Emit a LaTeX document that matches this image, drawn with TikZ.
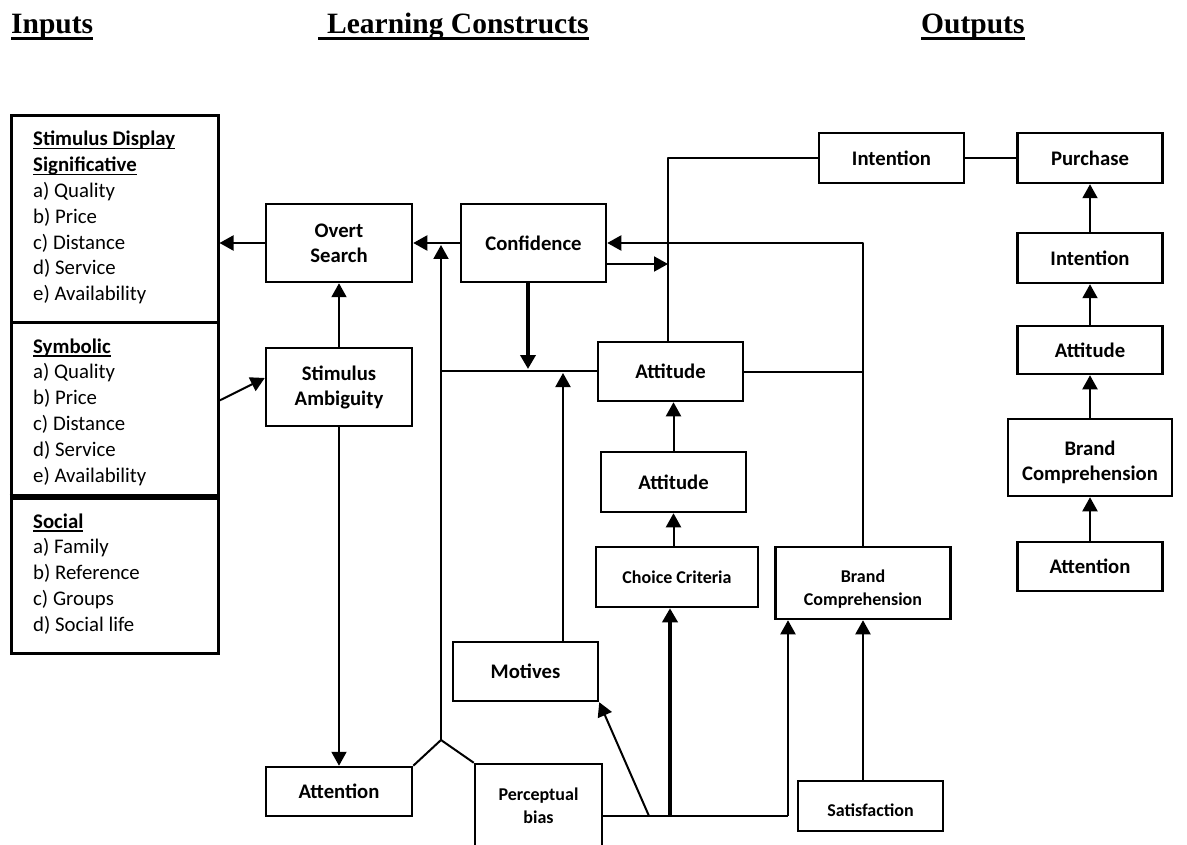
\documentclass[tikz,border=0pt]{standalone}
\usepackage{fontspec}
\setmainfont{Carlito}
\newfontfamily\headfont{Liberation Serif}
\newcommand{\myul}[1]{\setbox0\hbox{#1}\rlap{\rule[-3.5pt]{\wd0}{1.6pt}}\box0}
\usetikzlibrary{arrows.meta}
\begin{document}
\begin{tikzpicture}[x=1pt,y=-1pt,
  box/.style={draw, line width=2.5pt, inner sep=0pt, align=center, font=\bfseries\fontsize{20.7}{25}\selectfont},
  sbox/.style={box, font=\bfseries\fontsize{18}{23}\selectfont},
  lbox/.style={draw, line width=3pt, inner sep=0pt},
  ltxt/.style={anchor=base west, inner sep=0pt, font=\fontsize{20.8}{25}\selectfont},
  head/.style={anchor=base west, inner sep=0pt, font=\headfont\bfseries\fontsize{29.5}{32}\selectfont},
  link/.style={line width=2pt, line join=round},
  arr/.style={line width=2pt, line join=round, -{Triangle[length=14pt,width=15pt]}},
  tarr/.style={line width=3.5pt, -{Triangle[length=14pt,width=15pt]}},
  uln/.style={line width=2.8pt}
]
\useasboundingbox (0,0) rectangle (1187,845);

% headings
\node[head] (hin) at (11,33.5) {Inputs};
\node[head] (hlc) at (327,33.5) {Learning Constructs};
\node[head] (hout) at (921,33.5) {Outputs};
\draw[uln] ([yshift=-5pt]hin.base west) -- ([yshift=-5pt]hin.base east);
\draw[uln] ([shift={(-9pt,-5pt)}]hlc.base west) -- ([yshift=-5pt]hlc.base east);
\draw[uln] ([yshift=-5pt]hout.base west) -- ([yshift=-5pt]hout.base east);

% left input box
\node[lbox, minimum width=207pt, minimum height=207pt] (sig) at (114.5,219.5) {};
\node[lbox, minimum width=207pt, minimum height=175pt] (sym) at (114.5,410.5) {};
\node[lbox, minimum width=207pt, minimum height=155pt] (soc) at (114.5,575.5) {};
\draw[line width=4.5pt] (soc.north west) -- (soc.north east);

\foreach \t [count=\i] in {{\bfseries\myul{Stimulus Display}}, {\bfseries\myul{Significative}}, a) Quality, b) Price, c) Distance, d) Service, e) Availability}
  \node[ltxt] (sigt\i) at (33,{146+(\i-1)*25.8}) {\t};
\foreach \t [count=\i] in {{\bfseries\myul{Symbolic}}, a) Quality, b) Price, c) Distance, d) Service, e) Availability}
  \node[ltxt] (symt\i) at (33,{353+(\i-1)*25.8}) {\t};
\foreach \t [count=\i] in {{\bfseries\myul{Social}}, a) Family, b) Reference, c) Groups, d) Social life}
  \node[ltxt] (soct\i) at (33,{528+(\i-1)*25.8}) {\t};

% boxes
\node[box, minimum width=146pt, minimum height=78pt] (ovs) at (339,243) {Overt\\Search};
\node[box, minimum width=145pt, minimum height=78pt] (conf) at (533.5,243) {Confidence};
\node[box, minimum width=146pt, minimum height=78pt] (sa) at (339,387) {Stimulus\\Ambiguity};
\node[box, minimum width=145pt, minimum height=59pt] (att1) at (670.5,371.5) {Attitude};
\node[box, minimum width=145pt, minimum height=60pt] (att2) at (673.5,482) {Attitude};
\node[sbox, minimum width=162pt, minimum height=60pt] (cc) at (677,577) {Choice Criteria};
\node[sbox, minimum width=175pt, minimum height=72pt] (bcm) at (863,583) {\rule{0pt}{25pt}Brand\\Comprehension};
\node[box, minimum width=145pt, minimum height=59pt] (mot) at (525.5,671.5) {Motives};
\node[box, minimum width=146pt, minimum height=49pt] (attn) at (339,791.5) {Attention};
\node[sbox, minimum width=127pt, minimum height=84pt] (pb) at (538.5,806) {Perceptual\\bias};
\node[sbox, minimum width=145pt, minimum height=50pt] (sat) at (870.5,806) {\rule{0pt}{20.5pt}Satisfaction};
\node[box, minimum width=145pt, minimum height=50pt] (intt) at (891.5,158) {Intention};
\node[box, minimum width=145pt, minimum height=50pt] (pur) at (1090,158) {Purchase};
\node[box, minimum width=145pt, minimum height=50pt] (intr) at (1090,258) {Intention};
\node[box, minimum width=145pt, minimum height=48pt] (attr) at (1090,350) {Attitude};
\node[box, minimum width=164pt, minimum height=77pt] (bcr) at (1090,457.5) {\rule{0pt}{25pt}Brand\\Comprehension};
\node[box, minimum width=145pt, minimum height=49pt] (attnr) at (1090,566.5) {Attention};

% helper coordinates
\coordinate (J) at (441,740);
\coordinate (T) at (441,245);
\coordinate (H) at (441,371);
\coordinate (cdn) at (528,369);
\coordinate (mup) at (563,373);
\coordinate (vc) at (668,264);
\coordinate (bb) at (788,816);
\coordinate (tk) at (670,816);
\coordinate (dg) at (649,816);

% connectors
\draw[arr] (ovs.west) -- (ovs.west -| sig.east);
\draw[arr] (conf.west) -- (ovs.east);
\draw[arr] (sa.north) -- (ovs.south);
\draw[arr] ([yshift=10pt]sym.east) -- ([yshift=9pt]sa.west);
\draw[arr] (sa.south) -- (attn.north);
\draw[link] (attn.north east) -- (J) -- (pb.north west);
\draw[arr] (J) -- (T);
\draw[link] (H) -- (H -| att1.west);
\draw[tarr] (conf.south -| cdn) -- (cdn);
\draw[arr] (mot.north -| mup) -- (mup);
\draw[link] (att1.east) -- (att1.east -| bcm.north);
\draw[arr] (bcm.north) -- (bcm.north |- conf.east) -- (conf.east);
\draw[arr] (conf.east |- vc) -- (vc);
\draw[link] (att1.north -| vc) -- (vc |- intt.west) -- (intt.west);
\draw[link] (intt.east) -- (pur.west);
\draw[arr] (intr.north) -- (pur.south);
\draw[arr] (attr.north) -- (intr.south);
\draw[arr] (bcr.north) -- (attr.south);
\draw[arr] (attnr.north) -- (bcr.south);
\draw[arr] (att2.north) -- (att2.north |- att1.south);
\draw[arr] (cc.north -| att2.north) -- (att2.south);
\draw[link] (pb.east |- bb) -- (bb);
\draw[arr] (bb) -- (bb |- bcm.south);
\draw[tarr] (tk) -- (tk |- cc.south);
\draw[arr] (dg) -- (mot.south east);
\draw[arr] (sat.north -| bcm.south) -- (bcm.south);
\end{tikzpicture}
\end{document}
